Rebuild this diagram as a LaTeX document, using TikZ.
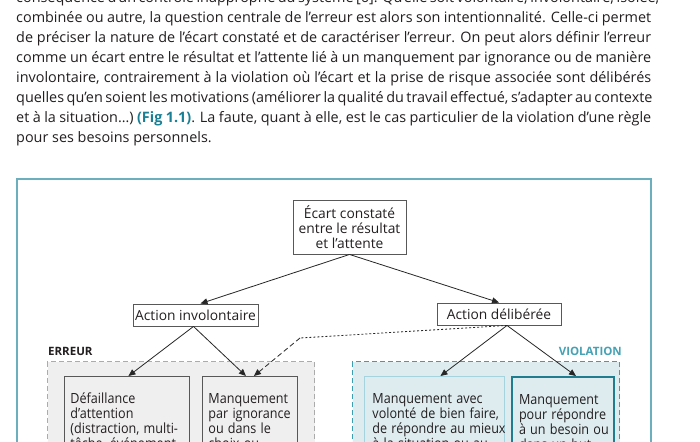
\documentclass[tikz,border=0pt]{standalone}
\usepackage{fontspec}
\usepackage{graphicx}
\setmainfont{Open Sans}
\usetikzlibrary{arrows.meta,calc}
\hyphenpenalty=10000
\definecolor{txt}{HTML}{231F20}
\definecolor{figteal}{HTML}{1A7F94}
\definecolor{framecol}{HTML}{6BAFBE}
\definecolor{vtxt}{HTML}{45A2B5}
\definecolor{vfill}{HTML}{DEECF0}
\definecolor{vdash}{HTML}{3E9DB1}
\definecolor{vlight}{HTML}{A5D4DE}
\definecolor{vdark}{HTML}{1E7E90}
\definecolor{efill}{HTML}{EFEFEF}
\definecolor{edash}{HTML}{ABABAB}
\definecolor{bord}{HTML}{585858}
\newcommand{\jline}[1]{\makebox[635pt][s]{#1}}
\newcommand{\topstrut}{\rule{0pt}{27.5pt}}
\newcommand{\sx}[1]{\scalebox{0.9}[1]{#1}}
\tikzset{
  bodytext/.style={anchor=base west, inner sep=0pt, text=txt, font=\fontsize{14.4}{20}\selectfont},
  topbox/.style={draw=bord, fill=white, line width=0.9pt, align=center, inner sep=0pt, text=txt, font=\fontsize{13.8}{15}\selectfont},
  inbox/.style={anchor=north west, align=left, inner xsep=6pt, inner ysep=0pt, text depth=90pt, text=txt,
    font=\fontsize{14}{15}\selectfont},
  grp/.style={anchor=north west, inner sep=0pt, minimum width=267pt, minimum height=130pt, line width=1pt, dash pattern=on 5pt off 3pt},
  grplabel/.style={anchor=base west, inner sep=0pt, font=\fontsize{11.5}{13}\selectfont\bfseries},
  conn/.style={draw=black!85, line width=0.8pt},
  arr/.style={conn, -{Triangle[length=7pt,width=6pt]}},
}
\begin{document}
\begin{tikzpicture}[x=1pt,y=-1pt]
\useasboundingbox (0,0) rectangle (700,441);
\clip (0,0) rectangle (700,441);
\fill[white] (0,0) rectangle (700,441);
% body text
\node[bodytext] (l0) at (16,2.5) {\jline{conséquence d’un contrôle inapproprié du système [6]. Qu’elle soit volontaire, involontaire, isolée,}};
\node[bodytext] (l1) at (16,22.5) {\jline{combinée ou autre, la question centrale de l’erreur est alors son intentionnalité. Celle-ci permet}};
\node[bodytext] (l2) at (16,42.5) {\jline{de préciser la nature de l’écart constaté et de caractériser l’erreur. On peut alors définir l’erreur}};
\node[bodytext] (l3) at (16,62.5) {\jline{comme un écart entre le résultat et l’attente lié à un manquement par ignorance ou de manière}};
\node[bodytext] (l4) at (16,82.5) {\jline{involontaire, contrairement à la violation où l’écart et la prise de risque associée sont délibérés}};
\node[bodytext] (l5) at (16,102.5) {\jline{quelles qu’en soient les motivations (améliorer la qualité du travail effectué, s’adapter au contexte}};
\node[bodytext] (l6) at (16,122.5) {\jline{et à la situation…) {\bfseries\color{figteal}(Fig 1.1)}. La faute, quant à elle, est le cas particulier de la violation d’une règle}};
\node[bodytext] (l7) at (16,142.5) {pour ses besoins personnels.};
% frame
\draw[framecol, line width=1.2pt] (17,179) rectangle (651,480);
% groups
\node[grp, draw=edash, fill=efill] (erreur) at (47,361) {};
\node[grplabel, text=txt] (erreurlbl) at ([xshift=1pt,yshift=6pt]erreur.north west) {ERREUR};
\node[grp, draw=vdash, fill=vfill] (violation) at (352,361) {};
\node[grplabel, text=vtxt, anchor=base east] (violationlbl) at ([xshift=2pt,yshift=6pt]violation.north east) {VIOLATION};
% inner boxes
\node[inbox, draw=bord, fill=efill, line width=0.9pt, text width=113pt] (d1) at (64,376)
  {\topstrut\sx{Défaillance}\\\sx{d’attention}\\\sx{(distraction, multi-}\\\sx{tâche, événement}};
\node[inbox, draw=bord, fill=efill, line width=0.9pt, text width=83pt] (d2) at (202,376)
  {\topstrut\sx{Manquement}\\\sx{par ignorance}\\\sx{ou dans le}\\\sx{choix ou}};
\node[inbox, draw=vlight, fill=vfill, line width=0.9pt, inner xsep=8pt, text width=124pt] (v1) at (364,376)
  {\topstrut\sx{Manquement avec}\\\sx{volonté de bien faire,}\\\sx{de répondre au mieux}\\\sx{à la situation ou au}};
\node[inbox, draw=vdark, fill=vfill, line width=2pt, inner xsep=7pt, text width=88pt] (v2) at (511,376)
  {\topstrut\sx{Manquement}\\\sx{pour répondre}\\\sx{à un besoin ou}\\\sx{dans un but}};
% main nodes
\node[topbox, minimum width=113pt, minimum height=54pt] (ecart) at (349.5,227) {Écart constaté\\entre le résultat\\et l’attente};
\node[topbox, minimum width=125pt, minimum height=22pt] (ai) at (195.5,315) {Action involontaire};
\node[topbox, minimum width=124pt, minimum height=22pt] (ad) at (499,314) {Action délibérée};
% connectors
\draw[arr] (ecart.south) -- ([xshift=5pt]ai.north);
\draw[arr] (ecart.south) -- (ad.north);
\draw[arr] ([xshift=-2pt]ai.south) -- ([xshift=1.5pt]d1.north);
\draw[arr] ([xshift=-2pt]ai.south) -- ([xshift=-4pt]d2.north);
\draw[arr] ([xshift=8pt]ad.south) -- ([xshift=6pt]v1.north);
\draw[arr] ([xshift=8pt]ad.south) -- ([xshift=13pt]v2.north);
\coordinate (bend) at (300,338);
\draw[conn, dash pattern=on 2pt off 2pt] ([xshift=8pt]ad.south) -- (bend);
\draw[arr, dash pattern=on 5pt off 3pt] (bend) -- ([xshift=4pt]d2.north);
\end{tikzpicture}
\end{document}
